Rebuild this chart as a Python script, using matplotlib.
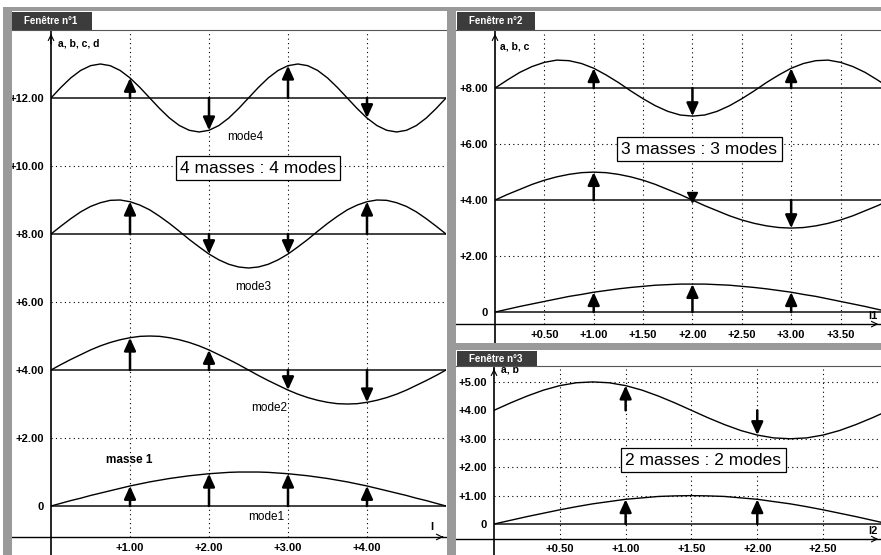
import numpy as np
import matplotlib.pyplot as plt
from matplotlib.patches import Rectangle

plt.rcParams['font.family'] = ['Liberation Sans', 'DejaVu Sans']

W, H = 881, 555

# ---- window 1 : 4 masses, string length 5 ----
x_w1 = np.linspace(0, 5, 41)
w1_mode1 = [0, .08, .16, .23, .31, .38, .45, .52, .59, .65, .71, .76, .81, .85, .89, .92, .95, .97, .99, 1.0, 1.0,
            1.0, .99, .97, .95, .92, .89, .85, .81, .76, .71, .65, .59, .52, .45, .38, .31, .23, .16, .08, 0]
w1_mode2 = [0, .16, .31, .45, .59, .71, .81, .89, .95, .99, 1.0, .99, .95, .89, .81, .71, .59, .45, .31, .16, 0,
            -.16, -.31, -.45, -.59, -.71, -.81, -.89, -.95, -.99, -1.0, -.99, -.95, -.89, -.81, -.71, -.59, -.45, -.31, -.16, 0]
w1_mode3 = [0, .23, .45, .65, .81, .92, .99, 1.0, .95, .85, .71, .52, .31, .08, -.16, -.38, -.59, -.76, -.89, -.97, -1.0,
            -.97, -.89, -.76, -.59, -.38, -.16, .08, .31, .52, .71, .85, .95, 1.0, .99, .92, .81, .65, .45, .23, 0]
w1_mode4 = [0, .31, .59, .81, .95, 1.0, .95, .81, .59, .31, 0, -.31, -.59, -.81, -.95, -1.0, -.95, -.81, -.59, -.31,
            0, .31, .59, .81, .95, 1.0, .95, .81, .59, .31, 0, -.31, -.59, -.81, -.95, -1.0, -.95, -.81, -.59, -.31, 0]
w1_base = [0, 4, 8, 12]
w1_masses = [1, 2, 3, 4]
w1_disp = [[.59, .95, .95, .59],
           [.95, .59, -.59, -.95],
           [.95, -.59, -.59, .95],
           [.59, -.95, .95, -.59]]
w1_yticks = [0, 2, 4, 6, 8, 10, 12]
w1_ylabels = ['0', '+2.00', '+4.00', '+6.00', '+8.00', '+10.00', '+12.00']
w1_xticks = [1, 2, 3, 4]
w1_xlabels = ['+1.00', '+2.00', '+3.00', '+4.00']

# ---- window 2 : 3 masses, string length 4 ----
x_w2 = np.linspace(0, 4, 33)
w2_mode1 = [0, .10, .20, .29, .38, .47, .56, .63, .71, .77, .83, .88, .92, .96, .98, 1.0, 1.0,
            1.0, .98, .96, .92, .88, .83, .77, .71, .63, .56, .47, .38, .29, .20, .10, 0]
w2_mode2 = [0, .20, .38, .56, .71, .83, .92, .98, 1.0, .98, .92, .83, .71, .56, .38, .20, 0,
            -.20, -.38, -.56, -.71, -.83, -.92, -.98, -1.0, -.98, -.92, -.83, -.71, -.56, -.38, -.20, 0]
w2_mode3 = [0, .29, .56, .77, .92, 1.0, .98, .88, .71, .47, .20, -.10, -.38, -.63, -.83, -.96, -1.0,
            -.96, -.83, -.63, -.38, -.10, .20, .47, .71, .88, .98, 1.0, .92, .77, .56, .29, 0]
w2_base = [0, 4, 8]
w2_masses = [1, 2, 3]
w2_disp = [[.71, 1.0, .71],
           [1.0, 0, -1.0],
           [.71, -1.0, .71]]
w2_yticks = [0, 2, 4, 6, 8]
w2_ylabels = ['0', '+2.00', '+4.00', '+6.00', '+8.00']
w2_xticks = [0.5, 1, 1.5, 2, 2.5, 3, 3.5]
w2_xlabels = ['+0.50', '+1.00', '+1.50', '+2.00', '+2.50', '+3.00', '+3.50']

# ---- window 3 : 2 masses, string length 3 ----
x_w3 = np.linspace(0, 3, 25)
w3_mode1 = [0, .13, .26, .38, .5, .61, .71, .79, .87, .92, .97, .99, 1.0,
            .99, .97, .92, .87, .79, .71, .61, .5, .38, .26, .13, 0]
w3_mode2 = [0, .26, .5, .71, .87, .97, 1.0, .97, .87, .71, .5, .26, 0,
            -.26, -.5, -.71, -.87, -.97, -1.0, -.97, -.87, -.71, -.5, -.26, 0]
w3_base = [0, 4]
w3_masses = [1, 2]
w3_disp = [[.87, .87],
           [.87, -.87]]
w3_yticks = [0, 1, 2, 3, 4, 5]
w3_ylabels = ['0', '+1.00', '+2.00', '+3.00', '+4.00', '+5.00']
w3_xticks = [0.5, 1, 1.5, 2, 2.5]
w3_xlabels = ['+0.50', '+1.00', '+1.50', '+2.00', '+2.50']

fig = plt.figure(figsize=(W / 100, H / 100), dpi=100)
fig.patch.set_facecolor('white')


def rect(x0, y0, x1, y1, fc, ec='none', lw=0, z=0):
    fig.patches.append(Rectangle((x0 / W, 1 - y1 / H), (x1 - x0) / W, (y1 - y0) / H,
                                 transform=fig.transFigure, fc=fc, ec=ec, lw=lw, zorder=z))


def title_tab(x0, y0, x1, y1, txt):
    rect(x0, y0, x1, y1, '#3c3c3c', z=5)
    fig.text((x0 + 12) / W, 1 - (y0 + y1) / 2 / H, txt, color='white', fontsize=7,
             fontweight='bold', va='center', ha='left', zorder=6)


# window frames (grey borders + title bars)
band = '#9a9a9a'
rect(3, 7, 881, 11, band, z=3)
rect(3, 7, 12, 555, band, z=3)
rect(447, 7, 456, 555, band, z=3)
rect(447, 343, 881, 350, band, z=3)
fig.add_artist(plt.Line2D([12 / W, 447 / W], [1 - 30 / H] * 2, color='#555', lw=0.8))
fig.add_artist(plt.Line2D([456 / W, 1], [1 - 30 / H] * 2, color='#555', lw=0.8))
fig.add_artist(plt.Line2D([456 / W, 1], [1 - 366 / H] * 2, color='#555', lw=0.8))
title_tab(12, 12, 92, 30, 'Fenêtre n°1')
title_tab(457, 12, 535, 30, 'Fenêtre n°2')
title_tab(457, 351, 537, 366, 'Fenêtre n°3')

dot = (0, (1, 3))


def panel(box, xlim, ylim, xs, modes, bases, masses, disps, yt, yl, xt, xl,
          xaxis_y, xlab_y, xaxis_left, hgrid, draw_base, names, box_txt, box_pos, axname):
    x0, y0, x1, y1 = box
    ax = fig.add_axes([x0 / W, 1 - y1 / H, (x1 - x0) / W, (y1 - y0) / H])
    ax.set_xlim(*xlim)
    ax.set_ylim(*ylim)
    ax.patch.set_alpha(0)
    for s in ['top', 'right', 'bottom']:
        ax.spines[s].set_visible(False)
    ax.spines['left'].set_linewidth(1.2)
    ax.set_xticks([])
    ax.set_yticks(yt, yl)
    ax.tick_params(axis='y', length=0, pad=5)
    for lab in ax.get_yticklabels():
        lab.set_fontweight('bold')
        lab.set_fontsize(8)

    # grid
    for g in hgrid:
        ax.axhline(g, color='black', lw=0.8, ls=dot)
    ax.vlines(xt, xaxis_y, ylim[1], color='black', lw=0.8, ls=dot)

    # x axis
    ax.plot([xaxis_left, xlim[1]], [xaxis_y, xaxis_y], color='black', lw=1, clip_on=False)
    ax.annotate('', xy=(xlim[1], xaxis_y), xytext=(xlim[1] - 0.08, xaxis_y),
                arrowprops=dict(arrowstyle='->', lw=0.8))
    ax.annotate('', xy=(0, 1.0), xycoords='axes fraction', xytext=(0, 0.97),
                arrowprops=dict(arrowstyle='->', lw=0.8))
    for t, l in zip(xt, xl):
        ax.text(t, xlab_y, l, ha='center', va='center', fontsize=8, fontweight='bold')

    # baselines, curves, arrows
    for b in draw_base:
        ax.axhline(b, color='#333333', lw=1.3)
    for m, b, d in zip(modes, bases, disps):
        ax.plot(xs, np.array(m) + b, color='black', lw=1)
        for xm, v in zip(masses, d):
            if v == 0:
                ax.plot(xm, b + 0.1, marker='v', color='black', ms=7)
            else:
                ax.annotate('', xy=(xm, b + v), xytext=(xm, b),
                            arrowprops=dict(arrowstyle='-|>,head_length=0.55,head_width=0.25',
                                            lw=1.8, color='black', shrinkA=0, shrinkB=0,
                                            mutation_scale=14))
    for txt, (tx, ty), bold in names:
        ax.text(tx, ty, txt, ha='center', va='center', fontsize=8.5,
                fontweight='bold' if bold else 'normal')
    ax.text(box_pos[0], box_pos[1], box_txt, ha='center', va='center', fontsize=12.5,
            bbox=dict(boxstyle='square,pad=0.25', fc='white', ec='black', lw=0.9))
    ax.text(axname[1][0], axname[1][1], axname[0], ha='center', va='center',
            fontsize=8, fontweight='bold')
    return ax


ax1 = panel((51, 31, 446, 555), (0, 5.0), (-1.44, 13.97), x_w1,
            [w1_mode1, w1_mode2, w1_mode3, w1_mode4], w1_base, w1_masses, w1_disp,
            w1_yticks, w1_ylabels, w1_xticks, w1_xlabels,
            -0.91, -1.24, -0.49, [2, 6, 10], w1_base,
            [('mode4', (2.46, 10.85), False), ('mode3', (2.56, 6.44), False),
             ('mode2', (2.76, 2.88), False), ('mode1', (2.72, -0.32), False),
             ('masse 1', (0.99, 1.35), True)],
            '4 masses : 4 modes', (2.62, 9.94), ('l', (4.82, -0.62)))
ax1.text(0.09, 13.6, 'a, b, c, d', fontsize=7.5, fontweight='bold', va='center')

ax2 = panel((495, 31, 881, 344), (0, 3.91), (-1.14, 10.04), x_w2,
            [w2_mode1, w2_mode2, w2_mode3], w2_base, w2_masses, w2_disp,
            w2_yticks, w2_ylabels, w2_xticks, w2_xlabels,
            -0.43, -0.82, -0.40, [2, 6], w2_base,
            [], '3 masses : 3 modes', (2.07, 5.82), ('l1', (3.83, -0.15)))
ax2.text(0.05, 9.5, 'a, b, c', fontsize=7.5, fontweight='bold', va='center')

ax3 = panel((494, 366, 881, 555), (0, 2.94), (-1.09, 5.56), x_w3,
            [w3_mode1, w3_mode2], w3_base, w3_masses, w3_disp,
            w3_yticks, w3_ylabels, w3_xticks, w3_xlabels,
            -0.53, -0.88, -0.29, [1, 2, 3, 5], [0],
            [], '2 masses : 2 modes', (1.59, 2.25), ('l2', (2.88, -0.25)))
ax3.text(0.05, 5.42, 'a, b', fontsize=7.5, fontweight='bold', va='center')

fig.savefig('out.png', dpi=100)
